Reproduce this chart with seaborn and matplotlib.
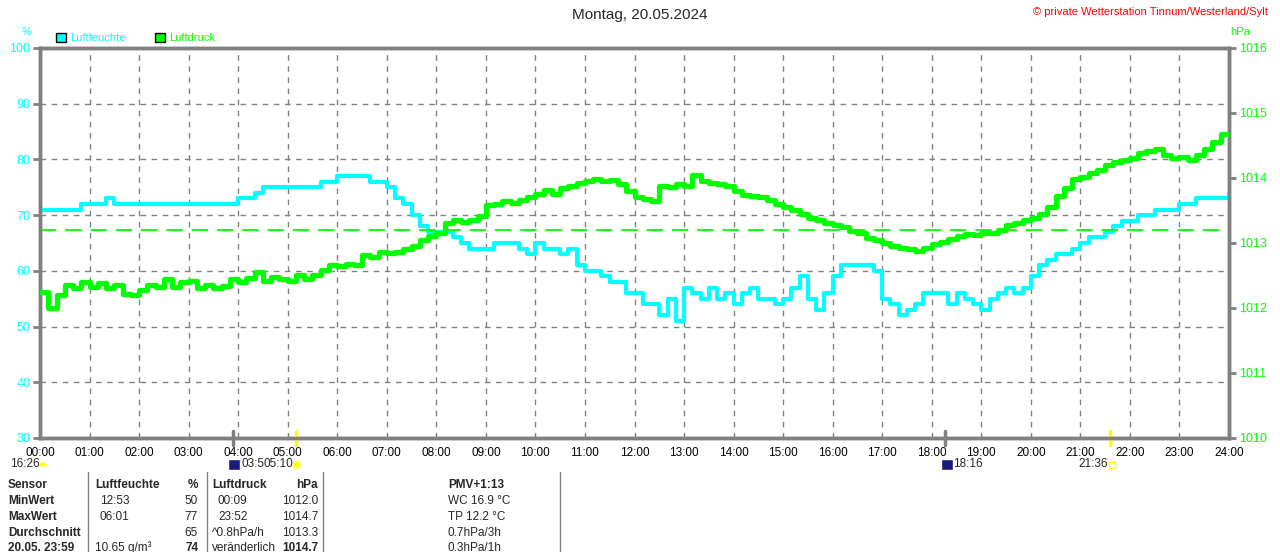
import numpy as np
import pandas as pd
import matplotlib
matplotlib.use("Agg")
import matplotlib.pyplot as plt
import seaborn as sns
from matplotlib.patches import Patch, Rectangle, Wedge, Circle
from matplotlib.transforms import IdentityTransform

# Luftfeuchte in %, one value every 10 minutes from 00:00 to 24:00
humidity = [
    71, 71, 71, 71, 71, 72, 72, 72, 73, 72, 72, 72,
    72, 72, 72, 72, 72, 72, 72, 72, 72, 72, 72, 72,
    73, 73, 74, 75, 75, 75, 75, 75, 75, 75, 76, 76,
    77, 77, 77, 77, 76, 76, 75, 73, 72, 70, 68, 67,
    67, 67, 66, 65, 64, 64, 64, 65, 65, 65, 64, 63,
    65, 64, 64, 63, 64, 61, 60, 60, 59, 58, 58, 56,
    56, 54, 54, 52, 55, 51, 57, 56, 55, 57, 55, 56,
    54, 56, 57, 55, 55, 54, 55, 57, 59, 55, 53, 56,
    59, 61, 61, 61, 61, 60, 55, 54, 52, 53, 54, 56,
    56, 56, 54, 56, 55, 54, 53, 55, 56, 57, 56, 57,
    59, 61, 62, 63, 63, 64, 65, 66, 66, 67, 68, 69,
    69, 70, 70, 71, 71, 71, 72, 72, 73, 73, 73, 73,
    74,
]

# Luftdruck in hPa, one value every 10 minutes from 00:00 to 24:00
pressure = [
    1012.25, 1012.00, 1012.20, 1012.35, 1012.30, 1012.40, 1012.32, 1012.38, 1012.30, 1012.36, 1012.22, 1012.20,
    1012.28, 1012.35, 1012.33, 1012.45, 1012.32, 1012.40, 1012.42, 1012.30, 1012.36, 1012.30, 1012.34, 1012.45,
    1012.40, 1012.46, 1012.55, 1012.42, 1012.48, 1012.44, 1012.42, 1012.50, 1012.45, 1012.50, 1012.58, 1012.66,
    1012.64, 1012.68, 1012.66, 1012.82, 1012.78, 1012.86, 1012.84, 1012.86, 1012.90, 1012.95, 1013.05, 1013.10,
    1013.15, 1013.30, 1013.35, 1013.32, 1013.36, 1013.42, 1013.58, 1013.60, 1013.65, 1013.62, 1013.66, 1013.70,
    1013.75, 1013.82, 1013.76, 1013.85, 1013.88, 1013.92, 1013.96, 1013.98, 1013.95, 1013.97, 1013.90, 1013.80,
    1013.70, 1013.68, 1013.64, 1013.88, 1013.86, 1013.90, 1013.88, 1014.05, 1013.96, 1013.92, 1013.90, 1013.88,
    1013.80, 1013.74, 1013.72, 1013.70, 1013.66, 1013.60, 1013.56, 1013.50, 1013.45, 1013.38, 1013.36, 1013.30,
    1013.28, 1013.25, 1013.18, 1013.15, 1013.08, 1013.05, 1013.00, 1012.96, 1012.92, 1012.90, 1012.88, 1012.92,
    1012.98, 1013.02, 1013.06, 1013.10, 1013.14, 1013.13, 1013.15, 1013.16, 1013.20, 1013.28, 1013.30, 1013.35,
    1013.38, 1013.45, 1013.55, 1013.72, 1013.85, 1013.98, 1014.02, 1014.08, 1014.12, 1014.20, 1014.24, 1014.28,
    1014.30, 1014.38, 1014.42, 1014.45, 1014.36, 1014.30, 1014.32, 1014.28, 1014.36, 1014.45, 1014.55, 1014.68,
    1014.66,
]

pressure_mean = 1013.2
hour_labels = ["%02d:00" % h for h in range(25)]
hum_ticks = [30, 40, 50, 60, 70, 80, 90, 100]
press_ticks = [1010, 1011, 1012, 1013, 1014, 1015, 1016]

# Tabelle unter dem Diagramm
table_header = ["Sensor", "Luftfeuchte", "%", "Luftdruck", "hPa", "PMV+1:13"]
table_rows = [
    ["MinWert", "12:53", "50", "00:09", "1012.0", "WC 16.9 °C"],
    ["MaxWert", "06:01", "77", "23:52", "1014.7", "TP 12.2 °C"],
    ["Durchschnitt", "", "65", "^0.8hPa/h", "1013.3", "0.7hPa/3h"],
    ["20.05. 23:59", "10.65 g/m³", "74", "veränderlich", "1014.7", "0.3hPa/1h"],
]

CYAN = "#00ffff"
GREEN = "#00ff00"
GRAY = "#808080"

sns.set_style("white")
plt.rcParams['font.family'] = ['Liberation Sans', 'DejaVu Sans']

W, H = 1280, 552
fig = plt.figure(figsize=(12.8, 5.52), dpi=100)
ax = fig.add_axes([40 / W, 1 - 438 / H, 1189 / W, 390 / H])
ax2 = ax.twinx()

df = pd.DataFrame({
    "Uhrzeit": np.arange(len(humidity)) / 6,
    "Luftfeuchte": humidity,
    "Luftdruck": pressure,
})

sns.lineplot(data=df, x="Uhrzeit", y="Luftfeuchte", ax=ax, color=CYAN,
             linewidth=3, drawstyle="steps-post", zorder=3)
sns.lineplot(data=df, x="Uhrzeit", y="Luftdruck", ax=ax2, color=GREEN,
             linewidth=3.8, drawstyle="steps-post", zorder=3)
ax2.axhline(pressure_mean, color=GREEN, linewidth=1.3, linestyle=(0, (9, 5)))

ax.set_xlim(0, 24)
ax.set_ylim(30, 100)
ax2.set_ylim(1010, 1016)
ax.set_xticks(range(25))
ax.set_xticklabels(hour_labels)
ax.set_yticks(hum_ticks)
ax2.set_yticks(press_ticks)
for a in (ax, ax2):
    a.set_xlabel("")
    a.set_ylabel("")
ax.grid(True, color=GRAY, linestyle=(0, (4, 4)), linewidth=1)
ax2.grid(False)

for a in (ax, ax2):
    for s in a.spines.values():
        s.set_color(GRAY)
        s.set_linewidth(2.5)
ax.tick_params(axis="y", colors=GRAY, labelcolor=CYAN, direction="out",
               length=5, width=2, labelsize=9, pad=2)
ax2.tick_params(axis="y", colors=GRAY, labelcolor=GREEN, direction="out",
                length=5, width=2, labelsize=9, pad=2)
ax.tick_params(axis="x", colors=GRAY, labelcolor="black", direction="out",
               length=5, width=1, labelsize=8.5, pad=1.5)

# Sonnen-/Mondzeiten an der Zeitachse
for t, c in [(3.9, GRAY), (18.27, GRAY), (5.17, "#ffff00"), (21.6, "#ffff00")]:
    ax.plot([t, t], [28.7, 31.3], color=c, linewidth=2.5, clip_on=False, zorder=5)

def fy(y):
    return 1 - y / H

fig.text(640 / W, fy(15), "Montag, 20.05.2024", ha="center", va="center", fontsize=11)
fig.text(1268 / W, fy(12), "© private Wetterstation Tinnum/Westerland/Sylt",
         ha="right", va="center", color="red", fontsize=8)
fig.text(27 / W, fy(32), "%", ha="center", va="center", color=CYAN, fontsize=8)
fig.text(1240 / W, fy(32), "hPa", ha="center", va="center", color=GREEN, fontsize=8)

fig.legend(handles=[Patch(facecolor=CYAN, edgecolor="black"),
                    Patch(facecolor=GREEN, edgecolor="black")],
           labels=["Luftfeuchte", "Luftdruck"], loc="center left",
           bbox_to_anchor=(46 / W, fy(38)), ncol=2, frameon=False,
           labelcolor=[CYAN, GREEN], fontsize=8, handlelength=0.9,
           handleheight=0.9, handletextpad=0.4, columnspacing=2.6)

# Symbole und Zeiten unter der Achse
ident = IdentityTransform()
ty = fy(464)
fig.text(10 / W, ty, "16:26", va="center", fontsize=8.5)
fig.add_artist(Wedge((43, H - 467), 5, 0, 180, facecolor="#ffff00", transform=ident))
fig.add_artist(Rectangle((228, H - 470), 12, 11, facecolor="#1a1a7a", transform=ident))
fig.text(241 / W, ty, "03:5", va="center", fontsize=8.5)
fig.text(264 / W, ty, "05:10", va="center", fontsize=8.5)
fig.add_artist(Circle((297, H - 465), 4, facecolor="#ffff00", edgecolor="#ffffa0",
                      linewidth=1.5, transform=ident))
fig.add_artist(Rectangle((941, H - 470), 12, 11, facecolor="#1a1a7a", transform=ident))
fig.text(953 / W, ty, "18:16", va="center", fontsize=8.5)
fig.text(1078 / W, ty, "21:36", va="center", fontsize=8.5)
fig.add_artist(Rectangle((1109, H - 468), 6, 6, facecolor="none", edgecolor="#ffff00",
                         linewidth=1, transform=ident))

# Tabelle
col_x = [8, 100, 198, 218, 318, 448]
col_ha = ["left", "left", "right", "left", "right", "left"]
header_x = [8, 95, 198, 212, 318, 448]
row_y = [485, 501, 517, 533, 548]
for x, ha, txt in zip(header_x, col_ha, table_header):
    fig.text(x / W, fy(row_y[0]), txt, ha=ha, va="center", fontsize=8.5, fontweight="bold")
for r, row in enumerate(table_rows):
    y = row_y[r + 1]
    last = r == len(table_rows) - 1
    for c, (x, ha, txt) in enumerate(zip(col_x, col_ha, row)):
        if c == 3 and r >= 2:
            x = 212
        if c == 1 and last:
            x = 95
        bold = c == 0 or (last and c in (2, 4))
        fig.text(x / W, fy(y), txt, ha=ha, va="center", fontsize=8.5,
                 fontweight="bold" if bold else "normal")
for x in [88, 207, 323, 560]:
    fig.add_artist(plt.Line2D([x / W, x / W], [fy(472), 0], color=GRAY, linewidth=1))

fig.savefig("out.png", dpi=100)
